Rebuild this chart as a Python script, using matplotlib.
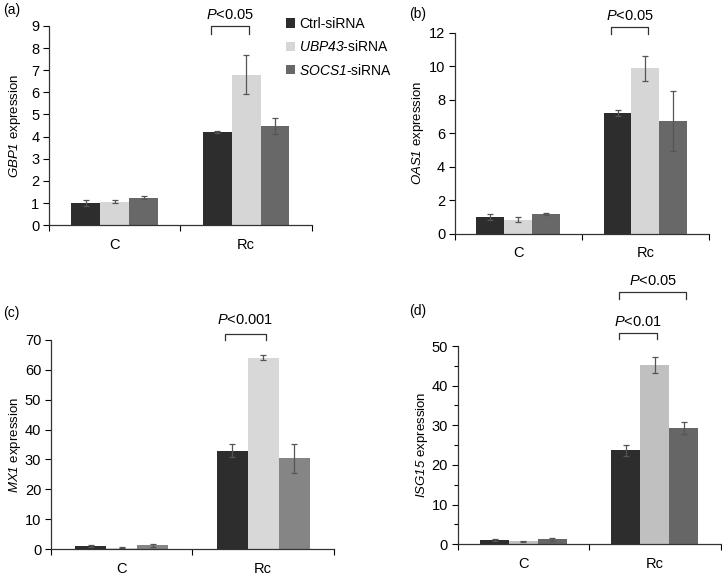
import matplotlib
matplotlib.use("Agg")
import matplotlib.pyplot as plt
import numpy as np

plt.rcParams['font.family'] = ['Liberation Sans', 'DejaVu Sans']
plt.rcParams['mathtext.fontset'] = 'custom'
plt.rcParams['mathtext.rm'] = 'Liberation Sans:italic'
plt.rcParams['mathtext.it'] = 'Liberation Sans:italic'

categories = ['C', 'Rc']
series = ['Ctrl-siRNA', r'$\mathit{UBP43}$-siRNA', r'$\mathit{SOCS1}$-siRNA']

# panel (a) GBP1
gbp1_vals = [[1.0, 4.2], [1.07, 6.8], [1.25, 4.48]]
gbp1_err = [[0.12, 0.05], [0.07, 0.87], [0.07, 0.34]]
# panel (b) OAS1
oas1_vals = [[1.01, 7.2], [0.85, 9.88], [1.17, 6.72]]
oas1_err = [[0.2, 0.18], [0.17, 0.73], [0.06, 1.8]]
# panel (c) MX1
mx1_vals = [[1.0, 33.0], [0.5, 64.0], [1.3, 30.4]]
mx1_err = [[0.3, 2.1], [0.2, 0.8], [0.4, 4.9]]
# panel (d) ISG15
isg15_vals = [[1.0, 23.7], [0.7, 45.2], [1.2, 29.3]]
isg15_err = [[0.3, 1.4], [0.2, 1.9], [0.3, 1.6]]

panels = [
    dict(label='(a)', gene='GBP1', vals=gbp1_vals, err=gbp1_err, ylim=9, yticks=np.arange(0, 10, 1),
         colors=['#2d2d2d', '#d6d6d6', '#686868'], rect=[0.0679, 0.609, 0.364, 0.346],
         brackets=[(0, 1, 8.65, 9.0, 9.5, '0.05')], lab_xy=(3, 10), minor=False, lpad=6),
    dict(label='(b)', gene='OAS1', vals=oas1_vals, err=oas1_err, ylim=12, yticks=np.arange(0, 13, 2),
         colors=['#2d2d2d', '#d6d6d6', '#686868'], rect=[0.630, 0.594, 0.352, 0.349],
         brackets=[(0, 1, 11.92, 12.34, 13.03, '0.05')], lab_xy=(409, 14), minor=False, lpad=2),
    dict(label='(c)', gene='MX1', vals=mx1_vals, err=mx1_err, ylim=70, yticks=np.arange(0, 71, 10),
         colors=['#2d2d2d', '#d8d8d8', '#858585'], rect=[0.0706, 0.0465, 0.392, 0.3635],
         brackets=[(0, 1, 70.1, 72.1, 76.8, '0.001')], lab_xy=(3, 313), minor=False, lpad=1),
    dict(label='(d)', gene='ISG15', vals=isg15_vals, err=isg15_err, ylim=50, yticks=np.arange(0, 51, 10),
         colors=['#2d2d2d', '#c0c0c0', '#666666'], rect=[0.634, 0.0553, 0.364, 0.344],
         brackets=[(0, 1, 51.7, 53.2, 56.1, '0.01'), (0, 2, 61.9, 63.6, 66.3, '0.05')],
         lab_xy=(409, 311), minor=True, lpad=1),
]

W, H = 722, 576
fig = plt.figure(figsize=(W / 100, H / 100), dpi=100)
bw = 0.22
x = np.arange(len(categories))
legend_handles = None

for p in panels:
    ax = fig.add_axes(p['rect'])
    handles = []
    for i in range(3):
        pos = x + (i - 1) * bw
        b = ax.bar(pos, p['vals'][i], bw, color=p['colors'][i], edgecolor='none',
                   yerr=p['err'][i], error_kw=dict(ecolor='#555555', elinewidth=0.9, capsize=2.5, capthick=0.9),
                   label=series[i], zorder=2)
        handles.append(b)
    if legend_handles is None:
        legend_handles = handles
    ax.set_xlim(-0.5, 1.5)
    ax.set_ylim(0, p['ylim'])
    ax.set_yticks(p['yticks'])
    if p['minor']:
        ax.set_yticks(np.arange(5, p['ylim'], 10), minor=True)
        ax.tick_params(axis='y', which='minor', length=3, width=0.8, direction='out')
    ax.set_xticks([-0.5, 0.5, 1.5])
    ax.set_xticklabels([])
    ax.set_xticks(x, minor=True)
    ax.set_xticklabels(categories, minor=True)
    ax.tick_params(axis='x', which='minor', length=0, pad=9, labelsize=10.5)
    ax.tick_params(axis='x', which='major', length=4, width=0.8, direction='out')
    ax.tick_params(axis='y', which='major', length=4, width=0.8, direction='out', labelsize=10.5, pad=3)
    for s in ['top', 'right']:
        ax.spines[s].set_visible(False)
    for s in ['left', 'bottom']:
        ax.spines[s].set_linewidth(0.9)
        ax.spines[s].set_color('#333333')
    ax.set_ylabel(r'$' + p['gene'] + '$ expression', fontsize=9.5, labelpad=p['lpad'])
    for (i0, i1, ylo, yhi, ytxt, pv) in p['brackets']:
        xl = x[1] + (i0 - 1) * bw - 0.05
        xr = x[1] + (i1 - 1) * bw + 0.02
        ax.plot([xl, xl, xr, xr], [ylo, yhi, yhi, ylo], color='#333333', lw=0.9, clip_on=False)
        ax.text((xl + xr) / 2, ytxt, r'$P$<' + pv, ha='center', va='center', fontsize=10.5, clip_on=False)
    fig.text(p['lab_xy'][0] / W, 1 - p['lab_xy'][1] / H, p['label'], ha='left', va='center', fontsize=10)

fig.legend(legend_handles, series, loc='upper left', bbox_to_anchor=(286 / W, 1 - 17 / H),
           frameon=False, handlelength=0.65, handleheight=0.65, handletextpad=0.3,
           labelspacing=0.6, fontsize=10, borderaxespad=0, borderpad=0)

fig.savefig('out.png', dpi=100)
